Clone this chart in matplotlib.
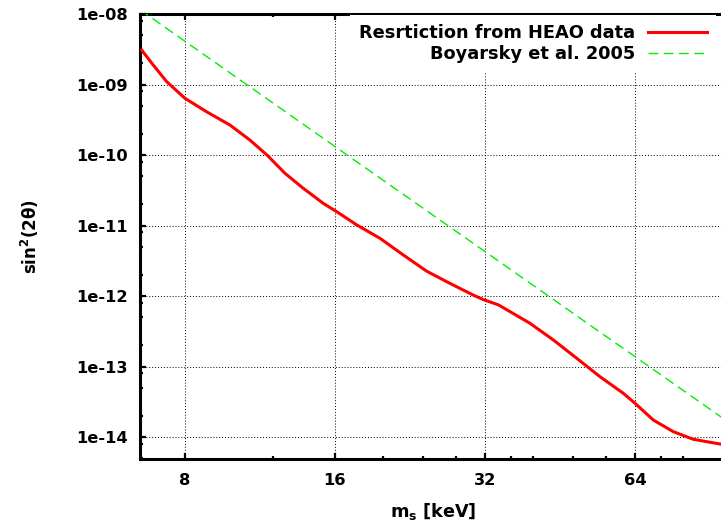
import matplotlib
matplotlib.use("Agg")
import matplotlib.pyplot as plt
from matplotlib.ticker import FixedLocator, FixedFormatter, NullFormatter

# HEAO restriction curve
heao_mass = [6.55, 6.91, 7.35, 8.0, 8.84, 9.85, 10.80, 11.72, 12.7, 13.82,
             15.16, 16.13, 17.69, 19.70, 21.94, 24.44, 27.22, 30.32, 31.75,
             34.03, 39.40, 43.88, 48.88, 54.44, 60.63, 64.0, 69.65, 76.4,
             83.8, 94.8]
heao_sin2 = [3.08e-9, 1.89e-9, 1.10e-9, 6.37e-10, 4.11e-10, 2.66e-10,
             1.63e-10, 9.8e-11, 5.5e-11, 3.37e-11, 2.06e-11, 1.57e-11,
             1.02e-11, 6.58e-12, 3.82e-12, 2.25e-12, 1.51e-12, 1.03e-12,
             8.9e-13, 7.5e-13, 4.10e-13, 2.38e-13, 1.31e-13, 7.17e-14,
             4.17e-14, 3.01e-14, 1.74e-14, 1.19e-14, 9.28e-15, 7.96e-15]

# Boyarsky et al. 2005 line
boy_mass = [6.5, 16.0, 64.0, 96.0]
boy_sin2 = [1.15e-8, 1.32e-10, 1.38e-13, 1.85e-14]

xticks = [8, 16, 32, 64]
xticklabels = ["8", "16", "32", "64"]
xminor = [12, 20, 24, 28, 36, 40, 48, 56, 72, 80]
yticks = [1e-8, 1e-9, 1e-10, 1e-11, 1e-12, 1e-13, 1e-14]
yticklabels = ["1e-08", "1e-09", "1e-10", "1e-11", "1e-12", "1e-13", "1e-14"]

plt.rcParams["font.family"] = ["DejaVu Sans"]
plt.rcParams["font.weight"] = "bold"
fs = 11.7

fig = plt.figure(figsize=(7.21, 5.24), dpi=100)
ax = fig.add_axes([140 / 721, 65 / 524, 581 / 721, 445 / 524])

ax.plot(heao_mass, heao_sin2, color="#ff0000", lw=2.2,
        label="Resrtiction from HEAO data", zorder=3,
        solid_joinstyle="round")
ax.plot(boy_mass, boy_sin2, color="#00ee00", lw=1.0, dashes=(7, 4),
        label="Boyarsky et al. 2005", zorder=3)

ax.set_xscale("log")
ax.set_yscale("log")
ax.set_xlim(6.5, 95.2)
ax.set_ylim(4.88e-15, 1e-8)

ax.xaxis.set_major_locator(FixedLocator(xticks))
ax.xaxis.set_major_formatter(FixedFormatter(xticklabels))
ax.xaxis.set_minor_locator(FixedLocator(xminor))
ax.xaxis.set_minor_formatter(NullFormatter())
ax.yaxis.set_major_locator(FixedLocator(yticks))
ax.yaxis.set_major_formatter(FixedFormatter(yticklabels))
minor_y = [m * d for d in [1e-15, 1e-14, 1e-13, 1e-12, 1e-11, 1e-10, 1e-9]
           for m in (2, 5, 8)]
ax.yaxis.set_minor_locator(FixedLocator(minor_y))
ax.yaxis.set_minor_formatter(NullFormatter())

ax.tick_params(which="both", direction="in", top=True, right=False,
               width=1.6, color="black")
ax.tick_params(which="major", length=4.5, labelsize=fs)
ax.tick_params(which="minor", length=2.5)
ax.tick_params(axis="x", which="major", pad=10)
ax.tick_params(axis="y", which="major", pad=9)
for lab in ax.get_xticklabels() + ax.get_yticklabels():
    lab.set_fontweight("bold")

for side in ["left", "bottom", "top"]:
    ax.spines[side].set_linewidth(2.2)
ax.spines["right"].set_visible(False)

ax.grid(True, which="major", color="black", lw=0.7, linestyle=(0, (1, 2)),
        zorder=0)
ax.set_axisbelow(True)

ax.set_xlabel(r"m$_\mathbf{s}$ [keV]", fontsize=12.7, fontweight="bold")
ax.set_ylabel(r"sin$^\mathbf{2}$(2θ)", fontsize=12, fontweight="bold")
ax.xaxis.set_label_coords(0.505, -0.095)
ax.yaxis.set_label_coords(-0.17, 0.5)

leg = ax.legend(loc="upper right", bbox_to_anchor=(0.993, 1.0),
                markerfirst=False, frameon=True, fancybox=False,
                facecolor="white", edgecolor="none", framealpha=1,
                prop={"size": 12.8, "weight": "bold"}, handlelength=3.3,
                handletextpad=0.73, labelspacing=0.2, borderpad=0.5,
                borderaxespad=0.05)
leg.set_zorder(5)

fig.savefig("out.png", dpi=100)
